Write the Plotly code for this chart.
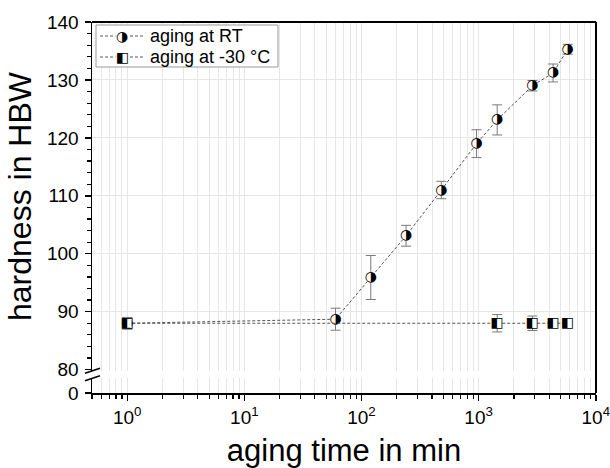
import plotly.graph_objects as go

# ---- data ----
time_rt = [1, 60, 120, 240, 480, 960, 1440, 2880, 4320, 5760]
hb_rt = [88, 88.7, 95.9, 103.1, 111.0, 119.0, 123.1, 129.0, 131.2, 135.3]
err_rt = [1.0, 1.9, 3.8, 1.8, 1.5, 2.4, 2.6, 0.9, 1.55, 0.85]

time_cold = [1, 1440, 2880, 4320, 5760]
hb_cold = [88, 88, 88, 88, 88]
err_cold = [1.0, 1.5, 1.25, 0.3, 0.3]

names = ["aging at RT", "aging at -30 °C"]
glyphs = ["◑", "◧"]

x_tickvals = [1, 10, 100, 1000, 10000]
x_ticktext = ["10<sup>0</sup>", "10<sup>1</sup>", "10<sup>2</sup>", "10<sup>3</sup>", "10<sup>4</sup>"]
y_tickvals = [80, 90, 100, 110, 120, 130, 140]
y_gridvals = [90, 100, 110, 120, 130]

FONT = "Liberation Sans, Arial, sans-serif"
GLYPH_FONT = "DejaVu Sans"
GRID = "#e6e6e6"
GSIZE = 14

x_minor = [m * 10 ** k for k in range(-1, 4) for m in range(2, 10)]
x_minor = [v for v in x_minor if 0.5 <= v <= 10000]

fig = go.Figure()

def add_series(x, y, err, glyph, wsym, wsize):
    fig.add_trace(go.Scatter(
        x=x, y=y, mode="lines+markers+text",
        line=dict(color="#555555", width=1, dash="3px,2px"),
        marker=dict(symbol=wsym, size=wsize, color="white", line=dict(width=0)),
        text=[glyph] * len(x), textposition="middle center",
        textfont=dict(family=GLYPH_FONT, size=GSIZE, color="black"),
        error_y=dict(type="data", array=err, visible=True, color="#7a7a7a",
                     thickness=1, width=5),
        showlegend=False, cliponaxis=False, hoverinfo="skip",
    ))

add_series(time_rt, hb_rt, err_rt, glyphs[0], "circle", 10)
add_series(time_cold, hb_cold, err_cold, glyphs[1], "square", 9)

# gridline-only overlay axis trace
fig.add_trace(go.Scatter(x=[], y=[], yaxis="y3", showlegend=False, hoverinfo="skip"))
# lower (broken) axis trace
fig.add_trace(go.Scatter(x=[], y=[], yaxis="y2", showlegend=False, hoverinfo="skip"))

main_bottom = 0.0593
low_top = 0.0404

fig.update_layout(
    width=610, height=468,
    margin=dict(l=92, r=14, t=22, b=75),
    paper_bgcolor="white", plot_bgcolor="white",
    hovermode=False, dragmode=False,
    font=dict(family=FONT, size=19, color="black"),
    xaxis=dict(
        type="log", range=[-0.30103, 4.002], anchor="y2", automargin=False,
        tickvals=x_tickvals, ticktext=x_ticktext, ticklabeloverflow="allow",
        ticks="outside", ticklen=6, tickwidth=1.5, tickcolor="black",
        showline=True, linecolor="black", linewidth=1.5,
        showgrid=True, gridcolor=GRID, gridwidth=1,
        minor=dict(tickvals=x_minor, ticks="outside", ticklen=4, tickwidth=1.2,
                   tickcolor="black", showgrid=True, gridcolor=GRID, gridwidth=1),
        tickfont=dict(size=19), ticklabelstandoff=1,
        title=dict(text="aging time in min", font=dict(size=31), standoff=17),
        zeroline=False,
    ),
    yaxis=dict(
        domain=[main_bottom, 1], range=[79.76, 140], automargin=False,
        tickvals=y_tickvals, ticklabeloverflow="allow",
        ticks="outside", ticklen=6, tickwidth=1.5, tickcolor="black",
        showline=True, linecolor="black", linewidth=1.5,
        showgrid=False,
        minor=dict(dtick=2, ticks="outside", ticklen=4, tickwidth=1.2, tickcolor="black",
                   showgrid=False),
        tickfont=dict(size=19), ticklabelstandoff=2,
        title=dict(text="hardness in HBW", font=dict(size=32), standoff=6),
        zeroline=False,
    ),
    yaxis3=dict(
        domain=[main_bottom, 1], range=[79.76, 140], overlaying="y", automargin=False,
        tickvals=y_gridvals, showticklabels=False, ticks="", showline=False,
        showgrid=True, gridcolor=GRID, gridwidth=1, zeroline=False,
    ),
    yaxis2=dict(
        domain=[0, low_top], range=[0, 3], automargin=False,
        tickvals=[0], ticks="outside", ticklen=6, tickwidth=1.5, tickcolor="black",
        showline=True, linecolor="black", linewidth=1.5, ticklabeloverflow="allow",
        showgrid=False, zeroline=False,
        tickfont=dict(size=19), ticklabelstandoff=2,
    ),
)

# frame: top and right edges
fig.add_shape(type="line", xref="paper", yref="paper", x0=0, x1=1, y0=1, y1=1,
              line=dict(color="black", width=2))
fig.add_shape(type="line", xref="paper", yref="paper", x0=1, x1=1, y0=0, y1=1,
              line=dict(color="black", width=2))

# axis break marks (paper coords)
pw, ph = 504.0, 371.0
def px2paper(xp, yp):
    return (xp - 92) / pw, (393 - yp) / ph
for (xa, ya, xb, yb) in [(85, 373.3, 100, 368.3), (85, 380.7, 100, 375.7)]:
    x0, y0 = px2paper(xa, ya)
    x1, y1 = px2paper(xb, yb)
    fig.add_shape(type="line", xref="paper", yref="paper", x0=x0, y0=y0, x1=x1, y1=y1,
                  line=dict(color="black", width=1.5))

# manual legend
lx0, ly0 = px2paper(96, 25)
lx1, ly1 = px2paper(278, 67)
fig.add_shape(type="rect", xref="paper", yref="paper", x0=lx0, x1=lx1, y0=ly1, y1=ly0,
              line=dict(color="#999999", width=1), fillcolor="white", layer="above")
rows_y = [36, 57]
for name, glyph, ry in zip(names, glyphs, rows_y):
    a0, b0 = px2paper(100, ry)
    a1, _ = px2paper(144, ry)
    am, _ = px2paper(122, ry)
    at, _ = px2paper(148, ry)
    fig.add_shape(type="line", xref="paper", yref="paper", x0=a0, x1=a1, y0=b0, y1=b0,
                  line=dict(color="#555555", width=1, dash="3px,2px"), layer="above")
    fig.add_annotation(xref="paper", yref="paper", x=am, y=b0, text=glyph, showarrow=False,
                       font=dict(family=GLYPH_FONT, size=GSIZE, color="black"),
                       bgcolor="white", xanchor="center", yanchor="middle",
                       borderpad=0)
    fig.add_annotation(xref="paper", yref="paper", x=at, y=b0, text=name, showarrow=False,
                       font=dict(family=FONT, size=18, color="black"),
                       xanchor="left", yanchor="middle")

fig.write_html("out.html", config={"displayModeBar": False, "staticPlot": True},
               post_script="document.body.style.margin='0';")
